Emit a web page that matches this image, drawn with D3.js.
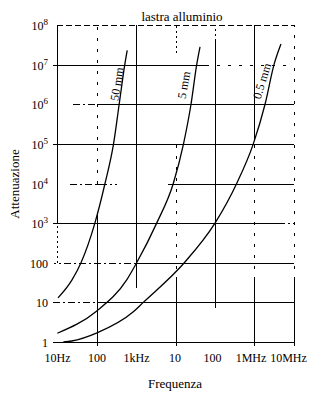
<!DOCTYPE html>
<html>
<head>
<meta charset="utf-8">
<script src="https://cdn.jsdelivr.net/npm/d3@7/dist/d3.min.js"></script>
<style>
  html, body { margin: 0; padding: 0; background: #fff; }
  svg { display: block; }
  text { font-family: "Liberation Serif", "Times New Roman", serif; fill: #000; }
</style>
</head>
<body>
<svg id="chart" width="330" height="409"></svg>
<script>
// Attenuation of an aluminium sheet vs frequency, for three thicknesses
const title = "lastra alluminio";
const xTitle = "Frequenza";
const yTitle = "Attenuazione";

const xTickValues = [10, 100, 1e3, 1e4, 1e5, 1e6, 1e7];
const xTickLabels = ["10Hz", "100", "1kHz", "10", "100", "1MHz", "10MHz"];

const yTickValues = [1, 10, 100, 1e3, 1e4, 1e5, 1e6, 1e7, 1e8];
const yTickBase = ["1", "10", "100", "10", "10", "10", "10", "10", "10"];
const yTickSup = ["", "", "", "3", "4", "5", "6", "7", "8"];

const seriesNames = ["50 mm", "5 mm", "0.5 mm"];

// [frequency Hz, attenuation]
const sheet50mm = [
  [10.6, 13], [24, 37], [40.5, 100], [91, 1000], [164, 1e4],
  [270, 1e5], [375, 1e6], [520, 1e7], [600, 2.3e7]
];
const sheet5mm = [
  [10.2, 1.66], [100, 6.0], [582, 37], [1040, 100],
  [3340, 1000], [8790, 1e4], [15950, 1e5], [24700, 1e6], [34400, 1e7], [41700, 2.8e7]
];
const sheet05mm = [
  [14.5, 1.0], [23.6, 1.06], [103, 1.7], [840, 5.7], [1530, 10],
  [16700, 100], [1e5, 1000], [3.54e5, 1e4], [9.33e5, 1e5], [1.85e6, 1e6],
  [3.12e6, 1e7], [4.68e6, 3.3e7]
];
const seriesData = [sheet50mm, sheet5mm, sheet05mm];

const svg = d3.select("#chart");
const x = d3.scaleLog().domain([10, 1e7]).range([57, 294]);
const y = d3.scaleLog().domain([1, 1e8]).range([342, 25]);

const dashes = { solid: null, dash: "6,3", dashdot: "7,3,2,3", dot: "2,3", sparse: "3,8" };

// grid line styling: horizontal rows (value -> frequency spans) and vertical columns (frequency -> attenuation spans)
const hGrid = [
  { v: 1e8, segs: [[10, 1e7, "dash"]] },
  { v: 1e7, segs: [[7.9, 6e4, "solid"], [6e4, 1e7, "sparse"]] },
  { v: 1e6, segs: [[25, 100, "dashdot"], [100, 1e7, "solid"]] },
  { v: 1e5, segs: [[7.9, 1e7, "solid"]] },
  { v: 1e4, segs: [[21, 100, "dashdot"], [100, 165, "solid"], [165, 395, "dot"], [6500, 1e7, "solid"]] },
  { v: 1e3, segs: [[7.9, 5.3e6, "solid"], [5.3e6, 1e7, "dot"]] },
  { v: 100, segs: [[8.5, 15, "dot"], [15, 1000, "dashdot"], [1000, 1e7, "solid"]] },
  { v: 10, segs: [[7.9, 100, "dashdot"], [100, 1e7, "solid"]] },
  { v: 1, segs: [[7.9, 1e7, "solid"]] }
];
const vGrid = [
  { v: 10, segs: [[1000, 1e8, "solid"], [100, 1000, "dot"]] },
  { v: 100, segs: [[1e4, 1e8, "sparse"], [0.79, 1600, "solid"]] },
  { v: 1e3, segs: [[23, 1e8, "solid"]] },
  { v: 1e4, segs: [[2e7, 1e8, "dot"], [37, 1.5e5, "sparse"], [0.79, 37, "solid"]] },
  { v: 1e5, segs: [[4e7, 1e8, "dot"], [7.2, 4e7, "solid"]] },
  { v: 1e6, segs: [[1.2e5, 1e8, "solid"], [37, 1.2e5, "sparse"], [0.79, 37, "solid"]] },
  { v: 1e7, segs: [[37, 1e8, "sparse"], [0.79, 37, "solid"]] }
];

const grid = svg.append("g").attr("stroke", "#000").attr("stroke-width", 1)
  .attr("shape-rendering", "crispEdges").attr("fill", "none");

hGrid.forEach(row => row.segs.forEach(([a, b, s]) => {
  const yy = Math.round(y(row.v)) + 0.5;
  grid.append("line").attr("x1", x(a)).attr("x2", x(b)).attr("y1", yy).attr("y2", yy)
    .attr("stroke-dasharray", dashes[s]);
}));
vGrid.forEach(col => col.segs.forEach(([a, b, s]) => {
  const xx = Math.round(x(col.v)) + 0.5;
  grid.append("line").attr("x1", xx).attr("x2", xx).attr("y1", y(a)).attr("y2", y(b))
    .attr("stroke-dasharray", dashes[s]);
}));

// x axis labels
const xAxis = d3.axisBottom(x).tickValues(xTickValues)
  .tickFormat((d, i) => xTickLabels[i]).tickSize(0).tickPadding(11.5);
const gx = svg.append("g").attr("transform", `translate(0,${y(1)})`).call(xAxis);
gx.select(".domain").remove();
gx.selectAll("text").attr("font-family", "Liberation Serif").attr("font-size", 12)
  .attr("dx", (d, i) => [0, 0, 0, -1, -3, -4, -6][i]);

// y axis labels with superscript exponents
const gy = svg.append("g");
yTickValues.forEach((v, i) => {
  const t = gy.append("text").attr("x", 48).attr("y", y(v) + 5)
    .attr("text-anchor", "end").attr("font-size", 12);
  t.append("tspan").text(yTickBase[i]);
  if (yTickSup[i]) {
    t.append("tspan").attr("font-size", 9).attr("dy", -5).text(yTickSup[i]);
  }
});

// attenuation curves
const line = d3.line().x(d => x(d[0])).y(d => y(d[1])).curve(d3.curveMonotoneX);
svg.append("g").selectAll("path").data(seriesData).join("path")
  .attr("d", line).attr("fill", "none").attr("stroke", "#000").attr("stroke-width", 1.3);

// thickness labels along the steep part of each curve
const labelPos = [[117, 84, -81], [184, 85, -80], [262, 81, -73]];
svg.append("g").selectAll("text").data(seriesNames).join("text")
  .attr("transform", (d, i) => `translate(${labelPos[i][0]},${labelPos[i][1]}) rotate(${labelPos[i][2]})`)
  .attr("text-anchor", "middle").attr("dominant-baseline", "central")
  .attr("font-size", 12).text(d => d);

// titles
svg.append("text").attr("x", 182).attr("y", 21).attr("text-anchor", "middle")
  .attr("font-size", 13).text(title);
svg.append("text").attr("x", 175).attr("y", 388).attr("text-anchor", "middle")
  .attr("font-size", 13).text(xTitle);
svg.append("text").attr("transform", "translate(19,184) rotate(-90)")
  .attr("text-anchor", "middle").attr("font-size", 13).text(yTitle);
</script>
</body>
</html>
